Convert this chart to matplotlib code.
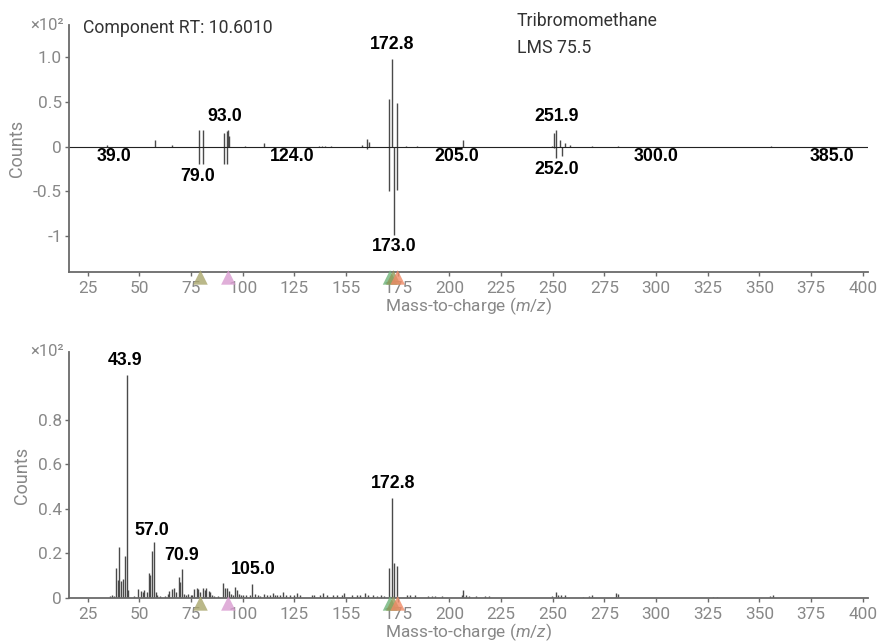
# Mass spectrum of component at RT 10.6010 vs library (Tribromomethane).
import matplotlib
matplotlib.use('Agg')
import matplotlib.pyplot as plt

plt.rcParams['font.family'] = ['Roboto', 'DejaVu Sans']
plt.rcParams['mathtext.fontset'] = 'custom'
plt.rcParams['mathtext.rm'] = 'Roboto'
plt.rcParams['mathtext.it'] = 'Roboto:italic'

# Head-to-head spectrum: component (up) and library (down), counts x10^2
top_pos_mz = [34.4, 57.4, 65.8, 79.0, 80.9, 91.1, 92.2, 92.9, 93.6, 101.2, 110.5,
              137.0, 138.3, 139.9, 142.8, 157.6, 160.0, 161.3, 170.6, 172.2, 174.5,
              179.0, 184.2, 206.7, 249.7, 250.7, 251.6, 253.4, 255.8, 258.3, 269.1,
              281.6, 355.4]
top_pos_h = [0.02, 0.07, 0.02, 0.19, 0.19, 0.15, 0.18, 0.19, 0.115, 0.01, 0.037,
             0.01, 0.01, 0.01, 0.01, 0.02, 0.086, 0.05, 0.53, 0.98, 0.49,
             0.01, 0.01, 0.07, 0.01, 0.15, 0.19, 0.07, 0.04, 0.015, 0.01,
             0.01, 0.01]
top_neg_mz = [79.0, 80.9, 91.1, 92.2, 160.0, 170.6, 173.1, 174.5, 250.7, 251.6, 254.4]
top_neg_h = [0.19, 0.19, 0.19, 0.19, 0.03, 0.5, 0.99, 0.48, 0.01, 0.127, 0.108]

# labels: text, m/z, y position
top_labels = [("172.8", 172.2, 1.14), ("93.0", 91.4, 0.335), ("251.9", 251.8, 0.335),
              ("173.0", 173.1, -1.11), ("79.0", 78.3, -0.335), ("252.0", 251.8, -0.257),
              ("39.0", 37.9, -0.11), ("124.0", 123.8, -0.11), ("205.0", 203.4, -0.11),
              ("300.0", 300.2, -0.11), ("385.0", 385.0, -0.11)]

# Raw scan spectrum, counts x10^2
bot_mz = [35.6, 36.8, 37.9, 38.7, 39.5, 40.3, 41.1, 42.1, 42.9, 43.9, 44.7, 47.2, 49.6,
          50.6, 51.6, 52.5, 53.5, 54.5, 55.3, 56.1, 56.9, 57.9, 58.8, 60.1, 62.5, 63.7,
          64.6, 65.6, 66.6, 67.7, 69.2, 69.9, 70.8, 71.7, 72.7, 73.8, 74.8, 75.7, 76.7,
          77.7, 78.6, 79.6, 80.6, 81.6, 82.5, 83.5, 84.3, 85.3, 86.2, 88.3, 90.4, 91.5,
          92.5, 93.5, 94.4, 95.4, 96.4, 97.2, 98.2, 99.1, 100.4, 101.7, 103.6, 104.7,
          105.9, 107.2, 108.5, 110.1, 111.7, 113.3, 114.6, 115.7, 116.8, 118.1, 119.7,
          121.0, 123.0, 124.6, 126.2, 127.8, 133.4, 134.6, 137.5, 139.0, 140.7, 143.9,
          145.5, 147.9, 149.1, 152.8, 155.2, 156.8, 159.2, 160.8, 163.2, 164.9, 166.8,
          168.4, 170.9, 172.4, 173.2, 174.8, 179.3, 181.0, 183.4, 189.8, 191.4, 193.0,
          196.3, 205.9, 206.7, 207.9, 209.5, 212.7, 217.2, 219.1, 249.4, 251.5, 252.6,
          253.8, 255.8, 264.7, 267.6, 269.0, 280.8, 281.6, 327.5, 329.4, 355.3, 356.5]
bot_h = [0.008, 0.012, 0.01, 0.135, 0.08, 0.23, 0.075, 0.083, 0.19, 1.0, 0.035, 0.008, 0.039,
         0.03, 0.027, 0.035, 0.025, 0.114, 0.105, 0.21, 0.25, 0.025, 0.015, 0.008, 0.01, 0.02,
         0.03, 0.04, 0.043, 0.027, 0.095, 0.07, 0.128, 0.018, 0.012, 0.018, 0.013, 0.015, 0.04,
         0.043, 0.04, 0.027, 0.043, 0.035, 0.045, 0.032, 0.027, 0.015, 0.01, 0.008, 0.067, 0.043,
         0.043, 0.032, 0.02, 0.015, 0.048, 0.035, 0.018, 0.015, 0.012, 0.012, 0.015, 0.065,
         0.017, 0.012, 0.011, 0.017, 0.012, 0.015, 0.021, 0.015, 0.012, 0.012, 0.025,
         0.012, 0.012, 0.015, 0.021, 0.012, 0.015, 0.012, 0.012, 0.021, 0.012, 0.012,
         0.012, 0.012, 0.021, 0.012, 0.015, 0.012, 0.021, 0.012, 0.012, 0.01, 0.012,
         0.01, 0.135, 0.447, 0.157, 0.142, 0.012, 0.012, 0.012, 0.008, 0.008, 0.008,
         0.01, 0.012, 0.035, 0.012, 0.01, 0.008, 0.008, 0.008, 0.008, 0.027, 0.012,
         0.012, 0.012, 0.006, 0.008, 0.012, 0.022, 0.018, 0.005, 0.005, 0.008, 0.015]
bot_labels = [("43.9", 43.2, 1.065), ("57.0", 56.1, 0.304), ("70.9", 70.6, 0.189),
              ("105.0", 104.9, 0.128), ("172.8", 172.9, 0.514)]

# ion markers under the x axis
ion_mz = [79.6, 93.1, 171.3, 172.9, 175.0]
ion_colors = ['#a9a66c', '#d99bd0', '#6fb47a', '#8f9a58', '#f08a65']

xticks = [25, 50, 75, 100, 125, 150, 175, 200, 225, 250, 275, 300, 325, 350, 375, 400]
xtick_labels = ['25', '50', '75', '100', '125', '155', '175', '200', '225', '250',
                '275', '300', '325', '350', '375', '400']

gray = '#888888'
spine_c = '#6a6a6a'
line_c = '#4a4a4a'

fig = plt.figure(figsize=(8.79, 6.43), dpi=100)
ax1 = fig.add_axes([0.0785, 0.577, 0.909, 0.384])
ax2 = fig.add_axes([0.0785, 0.070, 0.909, 0.3826])


def style(ax):
    for s in ['top', 'right']:
        ax.spines[s].set_visible(False)
    for s in ['left', 'bottom']:
        ax.spines[s].set_color(spine_c)
        ax.spines[s].set_linewidth(1.3)
    ax.tick_params(colors=spine_c, labelcolor=gray, labelsize=12.4, width=1, length=3)
    ax.tick_params(axis='x', pad=3.3)
    ax.tick_params(axis='y', pad=2)
    ax.set_xlim(16, 402.5)
    ax.set_xticks(xticks)
    ax.set_xticklabels(xtick_labels)
    ax.set_xlabel('Mass-to-charge ($m/z$)', color=gray, fontsize=12.4, labelpad=0)
    ax.set_ylabel('Counts', color=gray, fontsize=13, labelpad=5)
    ax.scatter(ion_mz, [-0.022] * len(ion_mz), marker='^', s=110, c=ion_colors,
               alpha=0.8, linewidths=0, transform=ax.get_xaxis_transform(),
               clip_on=False, zorder=5)
    ax.text(-0.006, 1.0, '×10²', transform=ax.transAxes, ha='right', va='center',
            color=gray, fontsize=12)


# top: head-to-head
ax1.vlines(top_pos_mz, 0, top_pos_h, color=line_c, lw=1)
ax1.vlines(top_neg_mz, 0, [-h for h in top_neg_h], color=line_c, lw=1)
ax1.axhline(0, color='#222222', lw=0.8)
ax1.set_ylim(-1.4, 1.36)
ax1.set_yticks([1.0, 0.5, 0, -0.5, -1])
ax1.set_yticklabels(['1.0', '0.5', '0', '-0.5', '-1'])
style(ax1)
for txt, x, y in top_labels:
    ax1.text(x, y, txt, ha='center', va='center', fontsize=12.8, fontweight='bold',
             family='Liberation Sans', color='black')

# bottom: scan
ax2.vlines(bot_mz, 0, bot_h, color=line_c, lw=1)
ax2.set_ylim(0, 1.104)
ax2.set_yticks([0, 0.2, 0.4, 0.6, 0.8])
ax2.set_yticklabels(['0', '0.2', '0.4', '0.6', '0.8'])
style(ax2)
for txt, x, y in bot_labels:
    ax2.text(x, y, txt, ha='center', va='center', fontsize=12.8, fontweight='bold',
             family='Liberation Sans', color='black')

fig.text(83 / 879, 1 - 28 / 643, 'Component RT: 10.6010', ha='left', va='center',
         fontsize=12.7, color='#333333')
fig.text(516.7 / 879, 1 - 20.7 / 643, 'Tribromomethane', ha='left', va='center',
         fontsize=12.7, color='#333333')
fig.text(516.7 / 879, 1 - 48.3 / 643, 'LMS 75.5', ha='left', va='center',
         fontsize=12.7, color='#333333')

fig.savefig('out.png', dpi=100)
